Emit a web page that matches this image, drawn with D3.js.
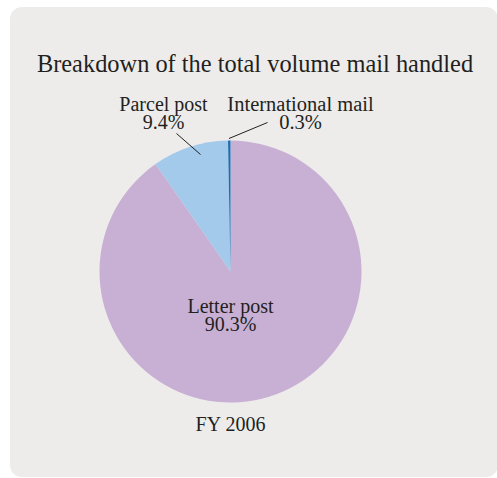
<!DOCTYPE html>
<html>
<head>
<meta charset="utf-8">
<script src="https://cdn.jsdelivr.net/npm/d3@7"></script>
<style>
  html, body { margin: 0; padding: 0; background: #ffffff; }
  svg { display: block; }
  text { font-family: "Liberation Serif", "DejaVu Serif", serif; fill: #231f20; }
</style>
</head>
<body>
<svg id="chart" width="497" height="478"></svg>
<script>
// Mail volume shares, FY 2006
const categories = ["Letter post", "Parcel post", "International mail"];
const shares = [90.3, 9.4, 0.3];
const sliceColors = ["#c8b0d5", "#a3c9eb", "#1b6db4"];
const titleText = "Breakdown of the total volume mail handled";
const yearLabel = "FY 2006";

const svg = d3.select("#chart");

// panel
svg.append("rect")
  .attr("x", 10).attr("y", 7)
  .attr("width", 488).attr("height", 470)
  .attr("rx", 12).attr("ry", 12)
  .attr("fill", "#edeceb");

svg.append("text")
  .attr("x", 255).attr("y", 72)
  .attr("text-anchor", "middle")
  .style("font-size", "24.4px")
  .text(titleText);

const cx = 230.5, cy = 271.5, radius = 131;
const g = svg.append("g").attr("transform", `translate(${cx},${cy})`);

const pie = d3.pie().sort(null).value(d => d.value);
const data = categories.map((c, i) => ({ name: c, value: shares[i], color: sliceColors[i] }));
const arcs = pie(data);
const arc = d3.arc().innerRadius(0).outerRadius(radius);

g.selectAll("path.slice")
  .data(arcs)
  .join("path")
  .attr("class", "slice")
  .attr("d", arc)
  .attr("fill", d => d.data.color);

// label layout: offsets relative to the pie centre
const labelPos = {
  "Letter post": { x: 0, y: 41, size: 20, lead: null },
  "Parcel post": { x: -67, y: -161, size: 20, lead: [[-54, -138], [-30, -117]] },
  "International mail": { x: 70, y: -161, size: 20.5, lead: [[37, -149], [-1.5, -133]] }
};

arcs.forEach(a => {
  const p = labelPos[a.data.name];
  const t = g.append("text")
    .attr("text-anchor", "middle")
    .style("font-size", p.size + "px");
  t.append("tspan").attr("x", p.x).attr("y", p.y).text(a.data.name);
  t.append("tspan").attr("x", p.x).attr("y", p.y + 18).text(d3.format(".1f")(a.data.value) + "%");
  if (p.lead) {
    g.append("line")
      .attr("x1", p.lead[0][0]).attr("y1", p.lead[0][1])
      .attr("x2", p.lead[1][0]).attr("y2", p.lead[1][1])
      .attr("stroke", "#231f20").attr("stroke-width", 1);
  }
});

svg.append("text")
  .attr("x", cx).attr("y", 431)
  .attr("text-anchor", "middle")
  .style("font-size", "20px")
  .text(yearLabel);
</script>
</body>
</html>
